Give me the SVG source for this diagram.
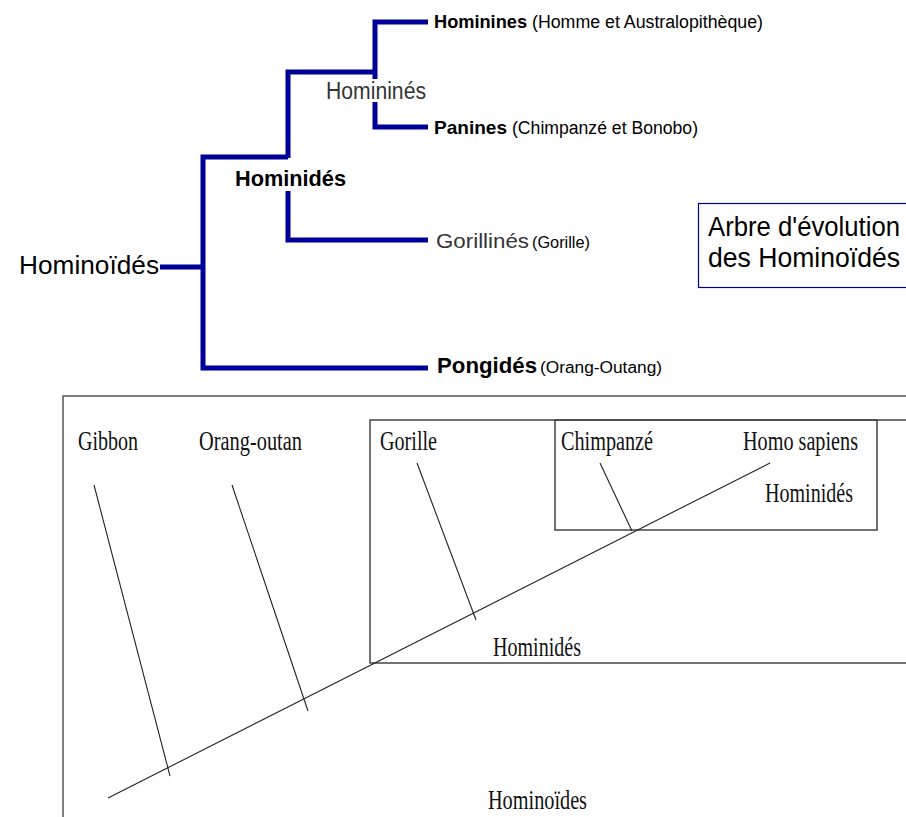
<svg xmlns="http://www.w3.org/2000/svg" width="906" height="817" viewBox="0 0 906 817">
  <style>
    .branch { fill: none; stroke: #000099; stroke-width: 5; stroke-linejoin: miter; stroke-linecap: butt; }
    .sans { font-family: "Liberation Sans", Arial, sans-serif; fill: #000; }
    .bold { font-weight: bold; }
    .light { fill: #333; }
    .serif { font-family: "Liberation Serif", "Times New Roman", serif; fill: #111; font-size: 27px; }
    .frame { fill: none; stroke: #555; stroke-width: 1.5; }
    .box { fill: none; stroke: #444; stroke-width: 1.5; }
    .stem { fill: none; stroke: #222; stroke-width: 1.1; }
  </style>
  <rect width="906" height="817" fill="#fff"/>

  <!-- Upper tree: blue bracket cladogram -->
  <g id="connectors">
    <path class="branch" d="M160,267 H203"/>
    <path class="branch" d="M288,157 H203 V368 H428"/>
    <path class="branch" d="M375,72 H288 V158"/>
    <path class="branch" d="M288,191 V240 H428"/>
    <path class="branch" d="M428,22 H375 V79"/>
    <path class="branch" d="M375,102 V127 H428"/>
  </g>

  <g id="hominoides">
    <text class="sans" x="19" y="274" font-size="26" textLength="140" lengthAdjust="spacingAndGlyphs">Hominoïdés</text>
  </g>
  <g id="hominides">
    <text class="sans bold" x="235" y="186" font-size="22" textLength="111" lengthAdjust="spacingAndGlyphs">Hominidés</text>
  </g>
  <g id="homininés">
    <text class="sans light" x="326" y="99" font-size="23" textLength="100" lengthAdjust="spacingAndGlyphs">Homininés</text>
  </g>
  <g id="hominines">
    <text class="sans bold" x="434" y="28" font-size="19" textLength="93" lengthAdjust="spacingAndGlyphs">Hominines</text>
    <text class="sans" x="532" y="28" font-size="18" textLength="231" lengthAdjust="spacingAndGlyphs">(Homme et Australopithèque)</text>
  </g>
  <g id="panines">
    <text class="sans bold" x="434" y="134" font-size="19" textLength="73" lengthAdjust="spacingAndGlyphs">Panines</text>
    <text class="sans" x="512" y="134" font-size="18" textLength="186" lengthAdjust="spacingAndGlyphs">(Chimpanzé et Bonobo)</text>
  </g>
  <g id="gorillines">
    <text class="sans light" x="436" y="248" font-size="21" textLength="93" lengthAdjust="spacingAndGlyphs">Gorillinés</text>
    <text class="sans" x="532" y="248" font-size="16" textLength="58" lengthAdjust="spacingAndGlyphs">(Gorille)</text>
  </g>
  <g id="pongides">
    <text class="sans bold" x="437" y="373" font-size="22" textLength="100" lengthAdjust="spacingAndGlyphs">Pongidés</text>
    <text class="sans" x="540" y="373" font-size="16" textLength="122" lengthAdjust="spacingAndGlyphs">(Orang-Outang)</text>
  </g>

  <g id="title">
    <rect x="698.5" y="203.5" width="220" height="84" fill="#fff" stroke="#000099" stroke-width="1.2"/>
    <text class="sans" x="708" y="236" font-size="27" textLength="192" lengthAdjust="spacingAndGlyphs">Arbre d'évolution</text>
    <text class="sans" x="708" y="267" font-size="27" textLength="192" lengthAdjust="spacingAndGlyphs">des Hominoïdés</text>
  </g>

  <!-- Lower tree: nested-set cladogram -->
  <g id="frames">
    <path class="frame" d="M63,830 V396 H920"/>
    <path class="box" d="M920,420 H370 V663 H920"/>
    <rect class="box" x="555" y="420" width="322" height="110"/>
  </g>

  <g id="lineage">
    <line class="stem" x1="108" y1="798" x2="770" y2="463"/>
    <line class="stem" x1="94" y1="485" x2="170" y2="776"/>
    <line class="stem" x1="232" y1="485" x2="308" y2="711"/>
    <line class="stem" x1="417" y1="463" x2="476" y2="620"/>
    <line class="stem" x1="600" y1="463" x2="632" y2="531"/>
  </g>

  <g id="gibbon"><text class="serif" x="78" y="450" textLength="60" lengthAdjust="spacingAndGlyphs">Gibbon</text></g>
  <g id="orang-outan"><text class="serif" x="199" y="450" textLength="103" lengthAdjust="spacingAndGlyphs">Orang-outan</text></g>
  <g id="gorille"><text class="serif" x="380" y="450" textLength="57" lengthAdjust="spacingAndGlyphs">Gorille</text></g>
  <g id="chimpanze"><text class="serif" x="561" y="450" textLength="92" lengthAdjust="spacingAndGlyphs">Chimpanzé</text></g>
  <g id="homo-sapiens"><text class="serif" x="743" y="450" textLength="115" lengthAdjust="spacingAndGlyphs">Homo sapiens</text></g>
  <g id="hominides-inner"><text class="serif" x="765" y="502" textLength="88" lengthAdjust="spacingAndGlyphs">Hominidés</text></g>
  <g id="hominides-outer"><text class="serif" x="493" y="656" textLength="88" lengthAdjust="spacingAndGlyphs">Hominidés</text></g>
  <g id="hominoides-outer"><text class="serif" x="488" y="809" textLength="99" lengthAdjust="spacingAndGlyphs">Hominoïdes</text></g>
</svg>
